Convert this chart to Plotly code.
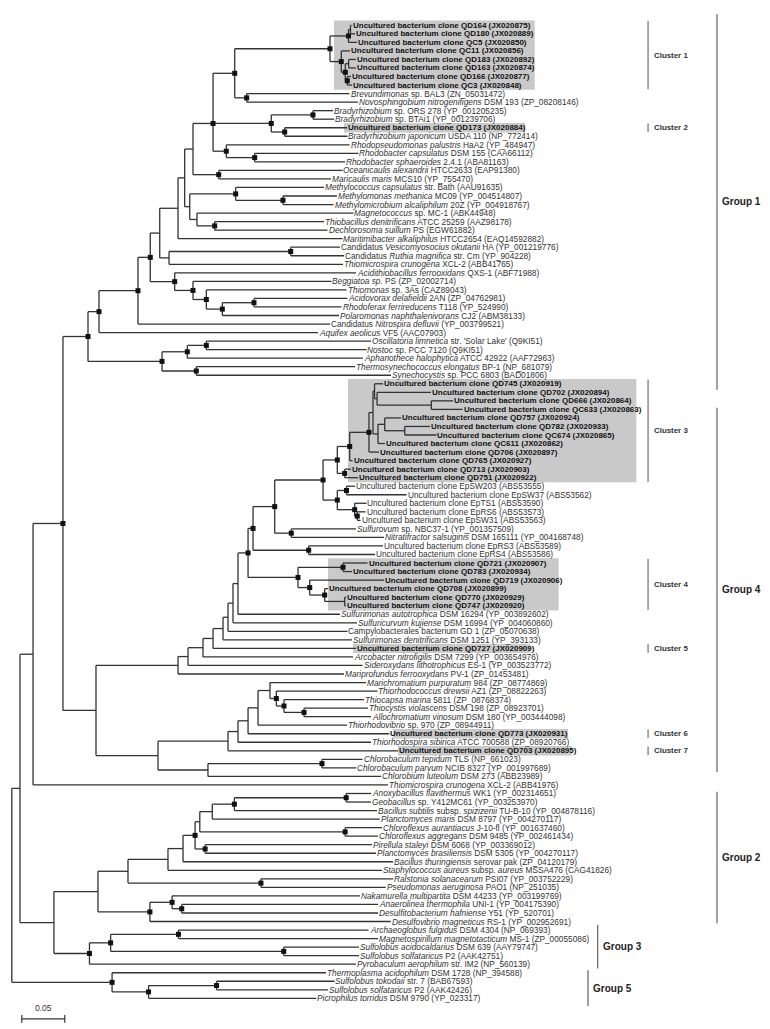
import plotly.graph_objects as go

# ---------------- data ----------------
LEAF_LABELS = [
    "Uncultured bacterium clone QD164 (JX020875)",
    "Uncultured bacterium clone QD180 (JX020889)",
    "Uncultured bacterium clone QC5 (JX020850)",
    "Uncultured bacterium clone QC11 (JX020856)",
    "Uncultured bacterium clone QD183 (JX020892)",
    "Uncultured bacterium clone QD163 (JX020874)",
    "Uncultured bacterium clone QD166 (JX020877)",
    "Uncultured bacterium clone QC3 (JX020848)",
    "<i>Brevundimonas</i> sp. BAL3 (ZN_05031472)",
    "<i>Novosphingobium nitrogenifigens</i> DSM 193 (ZP_08208146)",
    "<i>Bradyrhizobium</i> sp. ORS 278 (YP_001205235)",
    "<i>Bradyrhizobium</i> sp. BTAi1 (YP_001239706)",
    "Uncultured bacterium clone QD173 (JX020884)",
    "<i>Bradyrhizobium japonicum</i> USDA 110 (NP_772414)",
    "<i>Rhodopseudomonas palustris</i> HaA2 (YP_484947)",
    "<i>Rhodobacter capsulatus</i> DSM 155 (CAA66112)",
    "<i>Rhodobacter sphaeroides</i> 2.4.1 (ABA81163)",
    "<i>Oceanicaulis alexandrii</i> HTCC2633 (EAP91380)",
    "<i>Maricaulis maris</i> MCS10 (YP_755470)",
    "<i>Methylococcus capsulatus</i> str. Bath (AAU91635)",
    "<i>Methylomonas methanica</i> MC09 (YP_004514807)",
    "<i>Methylomicrobium alcaliphilum</i> 20Z (YP_004918767)",
    "<i>Magnetococcus</i> sp. MC-1 (ABK44948)",
    "<i>Thiobacillus denitrificans</i> ATCC 25259 (AAZ98178)",
    "<i>Dechlorosoma suillum</i> PS (EGW61882)",
    "<i>Maritimibacter alkaliphilus</i> HTCC2654 (EAQ14592882)",
    "Candidatus <i>Vesicomyosocius okutanii</i> HA (YP_001219776)",
    "Candidatus <i>Ruthia magnifica</i> str. Cm (YP_904228)",
    "<i>Thiomicrospira crunogena</i> XCL-2 (ABB41765)",
    "<i>Acidithiobacillus ferrooxidans</i> QXS-1 (ABF71988)",
    "<i>Beggiatoa sp.</i> PS (ZP_02002714)",
    "<i>Thiomonas</i> sp. 3As (CAZ89043)",
    "<i>Acidovorax delafieldii</i> 2AN (ZP_04762981)",
    "<i>Rhodoferax ferrireducens</i> T118 (YP_524990)",
    "<i>Polaromonas naphthalenivorans</i> CJ2 (ABM38133)",
    "Candidatus <i>Nitrospira defluvii</i> (YP_003799521)",
    "<i>Aquifex aeolicus</i> VF5 (AAC07903)",
    "<i>Oscillatoria limnetica</i> str. 'Solar Lake' (Q9KI51)",
    "<i>Nostoc</i> sp. PCC 7120 (Q9KI51)",
    "<i>Aphanothece halophytica</i> ATCC 42922 (AAF72963)",
    "<i>Thermosynechococcus elongatus</i> BP-1 (NP_681079)",
    "<i>Synechocystis</i> sp. PCC 6803 (BAD01806)",
    "Uncultured bacterium clone QD745 (JX020919)",
    "Uncultured bacterium clone QD702 (JX020894)",
    "Uncultured bacterium clone QD666 (JX020864)",
    "Uncultured bacterium clone QC633 (JX020863)",
    "Uncultured bacterium clone QD757 (JX020924)",
    "Uncultured bacterium clone QD782 (JX020933)",
    "Uncultured bacterium clone QC674 (JX020865)",
    "Uncultured bacterium clone QC611 (JX020862)",
    "Uncultured bacterium clone QD706 (JX020897)",
    "Uncultured bacterium clone QD765 (JX020927)",
    "Uncultured bacterium clone QD713 (JX020903)",
    "Uncultured bacterium clone QD751 (JX020922)",
    "Uncultured bacterium clone EpSW203 (ABS53555)",
    "Uncultured bacterium clone EpSW37 (ABS53562)",
    "Uncultured bacterium clone EpTS1 (ABS53590)",
    "Uncultured bacterium clone EpRS6 (ABS53573)",
    "Uncultured bacterium clone EpSW31 (ABS53563)",
    "<i>Sulfurovum</i> sp. NBC37-1 (YP_001357509)",
    "<i>Nitratifractor salsuginis</i> DSM 165111 (YP_004168748)",
    "Uncultured bacterium clone EpRS3 (ABS53589)",
    "Uncultured bacterium clone EpRS4 (ABS53586)",
    "Uncultured bacterium clone QD721 (JX020907)",
    "Uncultured bacterium clone QD783 (JX020934)",
    "Uncultured bacterium clone QD719 (JX020906)",
    "Uncultured bacterium clone QD708 (JX020899)",
    "Uncultured bacterium clone QD770 (JX020929)",
    "Uncultured bacterium clone QD747 (JX020920)",
    "<i>Sulfurimonas autotrophica</i> DSM 16294 (YP_003892602)",
    "<i>Sulfuricurvum kujiense</i> DSM 16994 (YP_004060860)",
    "Campylobacterales bacterium GD 1 (ZP_05070638)",
    "<i>Sulfurimonas denitrificans</i> DSM 1251 (YP_393133)",
    "Uncultured bacterium clone QD727 (JX020909)",
    "<i>Arcobacter nitrofigilis</i> DSM 7299 (YP_003654976)",
    "<i>Sideroxydans lithotrophicus</i> ES-1 (YP_003523772)",
    "<i>Mariprofundus ferrooxydans</i> PV-1 (ZP_01453481)",
    "<i>Marichromatium purpuratum</i> 984 (ZP_08774869)",
    "<i>Thiorhodococcus drewsii</i> AZ1 (ZP_08822263)",
    "<i>Thiocapsa marina</i> 5811 (ZP_08768374)",
    "<i>Thiocystis violascens</i> DSM 198 (ZP_08923701)",
    "<i>Allochromatium vinosum</i> DSM 180 (YP_003444098)",
    "<i>Thiorhodovibrio</i> sp. 970 (ZP_08944911)",
    "Uncultured bacterium clone QD773 (JX020931)",
    "<i>Thiorhodospira sibirica</i> ATCC 700588 (ZP_08920766)",
    "Uncultured bacterium clone QD703 (JX020895)",
    "<i>Chlorobaculum tepidum</i> TLS (NP_661023)",
    "<i>Chlorobaculum parvum</i> NCIB 8327 (YP_001997689)",
    "<i>Chlorobium luteolum</i> DSM 273 (ABB23989)",
    "<i>Thiomicrospira crunogena</i> XCL-2 (ABB41976)",
    "<i>Anoxybacillus flavithermus</i> WK1 (YP_002314651)",
    "<i>Geobacillus</i> sp. Y412MC61 (YP_003253970)",
    "<i>Bacillus subtilis</i> subsp. <i>spizizenii</i> TU-B-10 (YP_004878116)",
    "<i>Planctomyces maris</i> DSM 8797 (YP_004270117)",
    "<i>Chloroflexus aurantiacus</i> J-10-fl (YP_001637460)",
    "<i>Chloroflexus aggregans</i> DSM 9485 (YP_002461434)",
    "<i>Pirellula staleyi</i> DSM 6068 (YP_003369012)",
    "<i>Planctomyces brasiliensis</i> DSM 5305 (YP_004270117)",
    "<i>Bacillus thuringiensis</i> serovar pak (ZP_04120179)",
    "<i>Staphylococcus aureus</i> subsp. <i>aureus</i> MSSA476 (CAG41826)",
    "<i>Ralstonia solanacearum</i> PSI07 (YP_003752229)",
    "<i>Pseudomonas aeruginosa</i> PAO1 (NP_251035)",
    "<i>Nakamurella multipartita</i> DSM 44233 (YP_003199769)",
    "<i>Anaerolinea thermophila</i> UNI-1 (YP_004175390)",
    "<i>Desulfitobacterium hafniense</i> Y51 (YP_520701)",
    "<i>Desulfovibrio magneticus</i> RS-1 (YP_002952691)",
    "<i>Archaeoglobus fulgidus</i> DSM 4304 (NP_069393)",
    "<i>Magnetospirillum magnetotacticum</i> MS-1 (ZP_00055086)",
    "<i>Sulfolobus acidocaldarius</i> DSM 639 (AAY79747)",
    "<i>Sulfolobus solfataricus</i> P2 (AAK42751)",
    "<i>Pyrobaculum aerophilum</i> str. IM2 (NP_560139)",
    "<i>Thermoplasma acidophilum</i> DSM 1728 (NP_394588)",
    "<i>Sulfolobus tokodaii</i> str. 7 (BAB67593)",
    "<i>Sulfolobus solfataricus</i> P2 (AAK42426)",
    "<i>Picrophilus torridus</i> DSM 9790 (YP_023317)",
]

# rows of the study's own clones (drawn bold)
CLONE_ROWS = [0, 1, 2, 3, 4, 5, 6, 7, 12, 42, 43, 44, 45, 46, 47, 48, 49, 50,
              51, 52, 53, 63, 64, 65, 66, 67, 68, 73, 83, 85]

# cumulative distance from the root to each tip (substitutions per site)
LEAF_DEPTH = [
    0.3950, 0.3991, 0.4014, 0.3933, 0.4002, 0.4002, 0.3944, 0.3956, 0.3927, 0.4026,
    0.3735, 0.3747, 0.3898, 0.3903, 0.3927, 0.4031, 0.3874, 0.3845, 0.3712, 0.3630,
    0.3781, 0.3741, 0.3973, 0.3630, 0.3671, 0.3845, 0.3816, 0.3863, 0.3851, 0.4002,
    0.3717, 0.3892, 0.3903, 0.3834, 0.3805, 0.3700, 0.3560, 0.4177, 0.4124, 0.4084,
    0.3991, 0.4409, 0.4316, 0.4874, 0.5130, 0.5241, 0.4526, 0.4863, 0.4938, 0.4340,
    0.4270, 0.3962, 0.3944, 0.4026, 0.3991, 0.4590, 0.4124, 0.4113, 0.4055, 0.4002,
    0.4328, 0.4316, 0.4223, 0.4136, 0.3956, 0.4328, 0.3677, 0.3886, 0.3886, 0.3816,
    0.4014, 0.3903, 0.3956, 0.4002, 0.3967, 0.4078, 0.3863, 0.4119, 0.4252, 0.4095,
    0.4142, 0.4177, 0.3898, 0.4388, 0.4177, 0.4491, 0.4078, 0.4005, 0.4293, 0.4374,
    0.4177, 0.4177, 0.4247, 0.4278, 0.4305, 0.4258, 0.4188, 0.4235, 0.4433, 0.4305,
    0.4435, 0.4348, 0.4049, 0.4258, 0.4258, 0.4406, 0.4148, 0.4258, 0.4037, 0.4037,
    0.4002, 0.3653, 0.3752, 0.3677, 0.3540,
]

# internal nodes: (name, depth from root, children, supported-node marker)
NODES = [
    ("c1a1", 0.3938, [0, 1], 0), ("c1a", 0.3915, ["c1a1", 2], 1),
    ("c1b2", 0.3917, [4, 5], 0), ("c1b3", 0.3901, [6, 7], 1),
    ("c1b1", 0.3878, ["c1b2", "c1b3"], 1), ("c1b", 0.3831, [3, "c1b1"], 1),
    ("c1", 0.3700, ["c1a", "c1b"], 1), ("bn", 0.2731, [8, 9], 1),
    ("g1a", 0.2592, ["c1", "bn"], 1), ("br1", 0.3502, [10, 11], 1),
    ("br2", 0.3173, [12, 13], 1), ("br", 0.3017, ["br1", "br2"], 1),
    ("rc", 0.2824, [15, 16], 1), ("rh", 0.2494, [14, "rc"], 1),
    ("X", 0.2340, ["g1a", "br", "rh"], 1), ("om", 0.2406, [17, 18], 1),
    ("Na", 0.2107, ["X", "om"], 0), ("my2", 0.3153, [20, 21], 1),
    ("my1", 0.2603, [19, "my2"], 1), ("td", 0.2359, [23, 24], 1),
    ("Nd", 0.2153, [22, "td"], 0), ("Nc", 0.2069, ["my1", "Nd"], 0),
    ("Nb", 0.2010, ["Na", "Nc"], 0), ("Ne", 0.1933, ["Nb", 25], 0),
    ("vr", 0.3243, [26, 27], 1), ("vt", 0.1828, ["vr", 28], 0),
    ("Nf", 0.1720, ["Ne", "vt"], 0), ("ar", 0.2816, [32, 33], 1),
    ("ap", 0.2448, ["ar", 34], 1), ("tm", 0.2262, [31, "ap"], 1),
    ("bg", 0.2107, [30, "tm"], 1), ("ac", 0.1894, [29, "bg"], 1),
    ("Ng", 0.1610, ["Nf", "ac"], 1), ("Nh", 0.1467, ["Ng", 35], 1),
    ("Ni", 0.1014, ["Nh", 36], 1), ("os", 0.2262, [37, 38], 1),
    ("oa", 0.2041, ["os", 39], 1), ("ts", 0.2145, [40, 41], 1),
    ("cy", 0.1747, ["oa", "ts"], 1), ("Nj", 0.0886, ["Ni", "cy"], 1),
    # group 4
    ("s", 0.4878, [44, 45], 0), ("r", 0.4247, [43, "s"], 0),
    ("q", 0.4218, [42, "r"], 0), ("u", 0.4569, [47, 48], 0),
    ("t", 0.4336, [46, "u"], 0), ("v", 0.4258, ["t", 49], 0),
    ("c3c", 0.4200, ["q", "v"], 0), ("c3b", 0.4153, ["c3c", 50], 1),
    ("c3a", 0.3929, ["c3b", 51], 1), ("w", 0.3871, [52, 53], 1),
    ("c3", 0.3785, ["c3a", "w"], 1), ("y_", 0.3892, [54, 55], 1),
    ("ep2", 0.4017, [57, 58], 1), ("ep1", 0.3987, [56, "ep2"], 1),
    ("z", 0.3785, ["y_", "ep1"], 1), ("g4a", 0.3619, ["c3", "z"], 1),
    ("sn", 0.3250, [59, 60], 1), ("n4b", 0.3057, ["g4a", "sn"], 1),
    ("er", 0.3452, [61, 62], 1), ("c4q", 0.3851, [63, 64], 1),
    ("c4d", 0.3871, [67, 68], 0), ("c4c", 0.3638, [66, "c4d"], 1),
    ("c4b", 0.3464, [65, "c4c"], 1), ("c4a", 0.3328, ["c4q", "c4b"], 1),
    ("e1", 0.2805, ["n4b", "er"], 1), ("e2", 0.2747, ["e1", "c4a"], 1),
    ("e3", 0.2630, ["e2", 69], 0), ("e4", 0.2572, ["e3", 70], 0),
    ("e5", 0.2514, ["e4", 71], 0), ("e6", 0.2456, ["e5", 72], 0),
    ("e7", 0.2340, ["e6", 73], 0), ("e8", 0.2223, ["e7", 74], 0),
    ("s1", 0.2049, ["e8", 75], 0), ("s2", 0.1933, ["s1", 76], 0),
    ("tv", 0.3398, [80, 81], 1), ("tc", 0.3165, [79, "tv"], 1),
    ("td2", 0.3076, [78, "tc"], 1), ("gm1", 0.3002, [77, "td2"], 0),
    ("gm2", 0.2863, ["gm1", 82], 0), ("gm3", 0.2747, ["gm2", 83], 0),
    ("gm4", 0.2630, ["gm3", 84], 0), ("gm5", 0.2514, ["gm4", 85], 0),
    ("cb", 0.3607, [86, 87], 1), ("ch1", 0.2281, ["cb", 88], 0),
    ("gc", 0.1700, ["gm5", "ch1"], 0), ("g4r", 0.0979, ["s2", "gc"], 0),
    ("Nk", 0.0595, ["Nj", "g4r"], 1), ("B", 0.0247, ["Nk", 89], 0),
    # group 2
    ("ag", 0.3888, [90, 91], 1), ("bs", 0.2588, ["ag", 92], 1),
    ("pm", 0.2331, ["bs", 93], 0), ("cf", 0.3876, [94, 95], 1),
    ("pc", 0.2186, ["pm", "cf"], 0), ("pi", 0.2248, [96, 97], 1),
    ("g2a", 0.2131, ["pc", "pi"], 1), ("g2b", 0.1991, ["g2a", 98], 0),
    ("g2c", 0.1816, ["g2b", 99], 0), ("rp", 0.2897, [100, 101], 1),
    ("g2d", 0.1351, ["g2c", "rp"], 0), ("ad", 0.1976, [103, 104], 1),
    ("na", 0.1864, [102, "ad"], 1), ("dv", 0.1606, ["na", 105], 1),
    ("g2e", 0.1002, ["g2d", "dv"], 0),
    # group 3
    ("am", 0.1938, [106, 107], 1), ("ss", 0.3162, [108, 109], 1),
    ("g3b", 0.1149, ["am", "ss"], 1), ("g3a", 0.0903, ["g3b", 110], 1),
    ("G23", 0.0490, ["g2e", "g3a"], 0), ("C", 0.0095, ["B", "G23"], 0),
    # group 5
    ("st", 0.2381, [112, 113], 1), ("sp", 0.1590, ["st", 114], 1),
    ("g5", 0.1166, [111, "sp"], 1), ("root", 0.0000, ["C", "g5"], 0),
]
ROOT = "root"

# highlighted clusters: (label, first row, last row, shade from, shade to)
CLUSTERS = [
    ("Cluster 1", 0, 7, 0.3746, 0.6080),
    ("Cluster 2", 12, 12, 0.3863, 0.5971),
    ("Cluster 3", 42, 53, 0.3909, 0.7262),
    ("Cluster 4", 63, 68, 0.3677, 0.6359),
    ("Cluster 5", 73, 73, 0.3967, 0.6029),
    ("Cluster 6", 83, 83, 0.4433, 0.6467),
    ("Cluster 7", 85, 85, 0.4491, 0.6514),
]
CLUSTER_BAR_X = 0.7398

# groups: (label, bar x, row span start, row span end)
GROUPS = [
    ("Group 1", 0.8200, -1.3, 42.7),
    ("Group 4", 0.8200, 44.8, 87.5),
    ("Group 2", 0.8200, 89.8, 105.2),
    ("Group 3", 0.6813, 105.4, 110.5),
    ("Group 5", 0.6700, 110.7, 114.9),
]

SCALE_LABEL = "0.05"
SCALE_LEN = 0.05
SCALE_START = 0.0116
SCALE_ROW = 116.4

# ---------------- build tree geometry ----------------
node_map = {n[0]: n for n in NODES}


def depth(k):
    return LEAF_DEPTH[k] if isinstance(k, int) else node_map[k][1]


ycache = {}


def ypos(k):
    if isinstance(k, int):
        return float(k)
    if k in ycache:
        return ycache[k]
    ch = node_map[k][2]
    ys = [ypos(c) for c in ch]
    if len(ys) % 2 == 1 and len(ys) > 2:
        v = ys[len(ys) // 2]
    else:
        v = (ys[0] + ys[-1]) / 2.0
    ycache[k] = v
    return v


lx, ly = [], []
mx, my = [], []
for name, d, ch, mark in NODES:
    ys = [ypos(c) for c in ch]
    lx += [d, d, None]
    ly += [min(ys), max(ys), None]
    for c in ch:
        lx += [d, depth(c), None]
        ly += [ypos(c), ypos(c), None]
    if mark:
        mx.append(d)
        my.append(ypos(name))

LINE_COLOR = "#333333"
fig = go.Figure()
fig.add_trace(go.Scatter(x=lx, y=ly, mode="lines",
                         line=dict(color=LINE_COLOR, width=1.3),
                         hoverinfo="skip"))
fig.add_trace(go.Scatter(x=mx, y=my, mode="markers",
                         marker=dict(symbol="square", size=5, color="#111111"),
                         hoverinfo="skip"))

shapes = []
annotations = []
FONT = "Liberation Sans, Arial, sans-serif"
clone_set = set(CLONE_ROWS)

for i, lab in enumerate(LEAF_LABELS):
    if i in clone_set:
        txt = "<b>" + lab + "</b>"
        f = dict(family=FONT, size=8.0, color="#111111")
    else:
        txt = lab
        f = dict(family=FONT, size=8.3, color="#333333")
    annotations.append(dict(x=LEAF_DEPTH[i], y=i, text=txt, showarrow=False,
                            xanchor="left", yanchor="middle", font=f,
                            xshift=-1))

for lab, r0, r1, x0, x1 in CLUSTERS:
    shapes.append(dict(type="rect", xref="x", yref="y", x0=x0, x1=x1,
                       y0=r0 - 0.55, y1=r1 + 0.55, fillcolor="#c9c9c9",
                       line=dict(width=0), layer="below"))
    shapes.append(dict(type="line", xref="x", yref="y", x0=CLUSTER_BAR_X,
                       x1=CLUSTER_BAR_X, y0=r0 - 0.5, y1=r1 + 0.5,
                       line=dict(color="#555555", width=1)))
    annotations.append(dict(x=CLUSTER_BAR_X, y=(r0 + r1) / 2.0,
                            text="<b>" + lab + "</b>", showarrow=False,
                            xanchor="left", yanchor="middle", xshift=4,
                            font=dict(family=FONT, size=7.9, color="#333333")))

for lab, bx, r0, r1 in GROUPS:
    shapes.append(dict(type="line", xref="x", yref="y", x0=bx, x1=bx,
                       y0=r0, y1=r1, line=dict(color="#444444", width=1)))
    annotations.append(dict(x=bx, y=(r0 + r1) / 2.0, text="<b>" + lab + "</b>",
                            showarrow=False, xanchor="left", yanchor="middle",
                            xshift=3, font=dict(family=FONT, size=10,
                                                color="#222222")))

# scale bar
sx0, sx1 = SCALE_START, SCALE_START + SCALE_LEN
shapes.append(dict(type="line", xref="x", yref="y", x0=sx0, x1=sx1,
                   y0=SCALE_ROW, y1=SCALE_ROW, line=dict(color="#333333", width=1.2)))
for sx in (sx0, sx1):
    shapes.append(dict(type="line", xref="x", yref="y", x0=sx, x1=sx,
                       y0=SCALE_ROW - 0.45, y1=SCALE_ROW + 0.45,
                       line=dict(color="#333333", width=1.2)))
annotations.append(dict(x=(sx0 + sx1) / 2, y=SCALE_ROW - 0.5, text=SCALE_LABEL,
                        showarrow=False, xanchor="center", yanchor="bottom",
                        font=dict(family=FONT, size=8.5, color="#333333")))

fig.update_layout(
    width=770, height=1029, margin=dict(l=0, r=0, t=0, b=0),
    paper_bgcolor="white", plot_bgcolor="white", showlegend=False,
    shapes=shapes, annotations=annotations,
    xaxis=dict(visible=False, range=[-0.00442, 0.8909], fixedrange=True),
    yaxis=dict(visible=False, range=[118.53, -2.027], fixedrange=True),
)
fig.write_html("out.html")
